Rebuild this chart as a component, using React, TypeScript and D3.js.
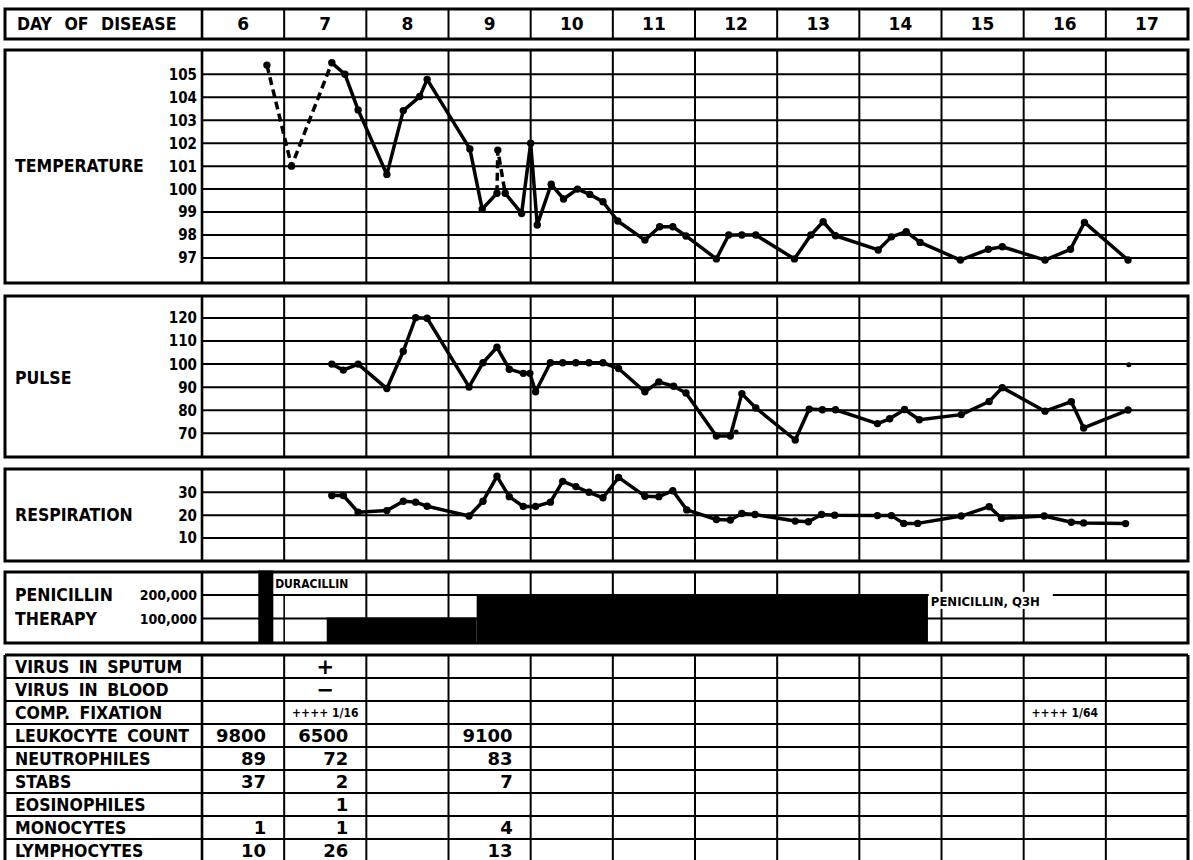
import React from "react";
import * as d3 from "d3";

// ---------------- DATA ----------------
const days = [6, 7, 8, 9, 10, 11, 12, 13, 14, 15, 16, 17];
const tempTicks = [105, 104, 103, 102, 101, 100, 99, 98, 97];
const pulseTicks = [120, 110, 100, 90, 80, 70];
const respTicks = [30, 20, 10];
const penicillinTicks = [200000, 100000];

type Pt = { day: number; value: number; dashed?: boolean };

// dashed = segment leading into this point is dashed
const temperature: Pt[] = [
  { day: 6.79, value: 105.4 },
  { day: 7.09, value: 101.0, dashed: true },
  { day: 7.58, value: 105.5, dashed: true },
  { day: 7.74, value: 105.0 },
  { day: 7.9, value: 103.45 },
  { day: 8.25, value: 100.64 },
  { day: 8.45, value: 103.42 },
  { day: 8.65, value: 104.03 },
  { day: 8.74, value: 104.78 },
  { day: 9.26, value: 101.75 },
  { day: 9.41, value: 99.13 },
  { day: 9.59, value: 99.82 },
  { day: 9.6, value: 101.7, dashed: true },
  { day: 9.69, value: 99.82, dashed: true },
  { day: 9.89, value: 98.94 },
  { day: 10.0, value: 102.0 },
  { day: 10.08, value: 98.44 },
  { day: 10.25, value: 100.21 },
  { day: 10.4, value: 99.57 },
  { day: 10.57, value: 100.0 },
  { day: 10.72, value: 99.77 },
  { day: 10.88, value: 99.45 },
  { day: 11.06, value: 98.61 },
  { day: 11.39, value: 97.78 },
  { day: 11.57, value: 98.36 },
  { day: 11.73, value: 98.36 },
  { day: 11.89, value: 97.96 },
  { day: 12.26, value: 96.96 },
  { day: 12.41, value: 98.0 },
  { day: 12.57, value: 98.0 },
  { day: 12.74, value: 98.0 },
  { day: 13.21, value: 96.96 },
  { day: 13.41, value: 98.0 },
  { day: 13.56, value: 98.58 },
  { day: 13.71, value: 97.97 },
  { day: 14.23, value: 97.35 },
  { day: 14.39, value: 97.92 },
  { day: 14.57, value: 98.15 },
  { day: 14.74, value: 97.68 },
  { day: 15.23, value: 96.91 },
  { day: 15.57, value: 97.38 },
  { day: 15.74, value: 97.49 },
  { day: 16.26, value: 96.91 },
  { day: 16.57, value: 97.38 },
  { day: 16.74, value: 98.55 },
  { day: 17.27, value: 96.91 },
];

const pulse: Pt[] = [
  { day: 7.58, value: 100 },
  { day: 7.72, value: 97.4 },
  { day: 7.9, value: 100 },
  { day: 8.25, value: 89.4 },
  { day: 8.45, value: 105.6 },
  { day: 8.6, value: 120.1 },
  { day: 8.74, value: 119.9 },
  { day: 9.25, value: 90.1 },
  { day: 9.42, value: 100.6 },
  { day: 9.59, value: 107.3 },
  { day: 9.74, value: 97.8 },
  { day: 9.91, value: 96.0 },
  { day: 9.99, value: 96.0 },
  { day: 10.06, value: 88.0 },
  { day: 10.24, value: 100.6 },
  { day: 10.39, value: 100.6 },
  { day: 10.55, value: 100.6 },
  { day: 10.71, value: 100.6 },
  { day: 10.88, value: 100.6 },
  { day: 11.07, value: 98.1 },
  { day: 11.39, value: 88.0 },
  { day: 11.56, value: 92.3 },
  { day: 11.74, value: 90.4 },
  { day: 11.89, value: 87.5 },
  { day: 12.26, value: 68.8 },
  { day: 12.43, value: 68.8 },
  { day: 12.57, value: 87.2 },
  { day: 12.74, value: 81.0 },
  { day: 13.22, value: 67.1 },
  { day: 13.39, value: 80.5 },
  { day: 13.55, value: 80.2 },
  { day: 13.71, value: 80.2 },
  { day: 14.22, value: 74.2 },
  { day: 14.37, value: 76.3 },
  { day: 14.55, value: 80.3 },
  { day: 14.73, value: 75.9 },
  { day: 15.24, value: 78.1 },
  { day: 15.58, value: 83.8 },
  { day: 15.74, value: 89.8 },
  { day: 16.26, value: 79.6 },
  { day: 16.58, value: 83.7 },
  { day: 16.73, value: 72.3 },
  { day: 17.27, value: 80.1 },
];

const pulseIsolated: Pt[] = [
  { day: 12.5, value: 70.6 },
  { day: 17.28, value: 99.7 },
];

const respiration: Pt[] = [
  { day: 7.58, value: 28.6 },
  { day: 7.72, value: 28.6 },
  { day: 7.9, value: 21.3 },
  { day: 8.25, value: 22.0 },
  { day: 8.45, value: 26.1 },
  { day: 8.6, value: 25.7 },
  { day: 8.74, value: 23.9 },
  { day: 9.25, value: 19.6 },
  { day: 9.42, value: 26.1 },
  { day: 9.59, value: 37.0 },
  { day: 9.74, value: 28.1 },
  { day: 9.91, value: 23.8 },
  { day: 10.06, value: 23.8 },
  { day: 10.24, value: 25.7 },
  { day: 10.39, value: 34.8 },
  { day: 10.55, value: 32.5 },
  { day: 10.71, value: 30.0 },
  { day: 10.88, value: 27.6 },
  { day: 11.07, value: 36.5 },
  { day: 11.39, value: 28.3 },
  { day: 11.56, value: 28.1 },
  { day: 11.73, value: 30.7 },
  { day: 11.9, value: 22.3 },
  { day: 12.26, value: 18.1 },
  { day: 12.43, value: 17.9 },
  { day: 12.57, value: 20.7 },
  { day: 12.73, value: 20.3 },
  { day: 13.22, value: 17.4 },
  { day: 13.38, value: 17.1 },
  { day: 13.54, value: 20.3 },
  { day: 13.7, value: 20.0 },
  { day: 14.22, value: 19.8 },
  { day: 14.39, value: 19.8 },
  { day: 14.54, value: 16.4 },
  { day: 14.71, value: 16.4 },
  { day: 15.24, value: 19.6 },
  { day: 15.58, value: 23.7 },
  { day: 15.73, value: 18.6 },
  { day: 16.25, value: 19.6 },
  { day: 16.58, value: 16.9 },
  { day: 16.73, value: 16.6 },
  { day: 17.24, value: 16.3 },
];

const penicillinDoses = [
  { start: 6.685, end: 6.868, units: 300000 },
  { start: 7.518, end: 9.343, units: 100000 },
  { start: 9.343, end: 14.835, units: 200000 },
];
const penicillinNotes = [
  { day: 6.89, units: 250000, text: "DURACILLIN" },
  { day: 14.87, units: 175000, text: "PENICILLIN, Q3H" },
];

const tableRows = [
  "VIRUS IN SPUTUM",
  "VIRUS IN BLOOD",
  "COMP. FIXATION",
  "LEUKOCYTE COUNT",
  "NEUTROPHILES",
  "STABS",
  "EOSINOPHILES",
  "MONOCYTES",
  "LYMPHOCYTES",
];
const virusSputum = [{ day: 7, text: "+" }];
const virusBlood = [{ day: 7, text: "\u2212" }];
const compFixation = [
  { day: 7, text: "++++ 1/16" },
  { day: 16, text: "++++ 1/64" },
];
const cbcDays = [6, 7, 9];
const leukocyteCount = [9800, 6500, 9100];
const neutrophiles = [89, 72, 83];
const stabs = [37, 2, 7];
const eosinophiles: (number | null)[] = [null, 1, null];
const monocytes = [1, 1, 4];
const lymphocytes = [10, 26, 13];

// ---------------- LAYOUT ----------------
const W = 1193;
const H = 860;
const L = 5;
const R = 1188;
const FONT = "'DejaVu Sans Condensed', 'DejaVu Sans', sans-serif";
const FONT_WIDE = "'DejaVu Sans', sans-serif";
const INK = "#000";

const x = d3.scaleLinear().domain([6, 18]).range([202, 1188]);
const boundaries = d3.range(7, 18);

const header = { y0: 9, y1: 39 };
const tempP = { y0: 50, y1: 283 };
const pulseP = { y0: 296, y1: 457 };
const respP = { y0: 469, y1: 561 };
const penP = { y0: 572, y1: 643 };
const tableP = { y0: 655, rowH: 23.0 };

const yT = d3.scaleLinear().domain([97, 105]).range([258, 74.3]);
const yP = d3.scaleLinear().domain([70, 120]).range([433.3, 318]);
const yR = d3.scaleLinear().domain([10, 30]).range([538, 492.3]);
const yPen = d3.scaleLinear().domain([100000, 200000]).range([618.5, 595]);
const yRow = d3
  .scaleLinear()
  .domain([0, tableRows.length])
  .range([tableP.y0, tableP.y0 + tableP.rowH * tableRows.length]);

function runs(pts: Pt[]) {
  const out: { dashed: boolean; pts: Pt[] }[] = [];
  if (pts.length < 2) return out;
  let cur = { dashed: !!pts[1].dashed, pts: [pts[0]] };
  for (let i = 1; i < pts.length; i++) {
    const d = !!pts[i].dashed;
    if (d !== cur.dashed) {
      out.push(cur);
      cur = { dashed: d, pts: [pts[i - 1]] };
    }
    cur.pts.push(pts[i]);
  }
  out.push(cur);
  return out;
}

function Series({ pts, y, isolated = [] }: { pts: Pt[]; y: d3.ScaleLinear<number, number>; isolated?: Pt[] }) {
  const line = d3
    .line<Pt>()
    .x((d) => x(d.day))
    .y((d) => y(d.value));
  return (
    <g>
      {runs(pts).map((r, i) => (
        <path
          key={i}
          d={line(r.pts) || ""}
          fill="none"
          stroke={INK}
          strokeWidth={3.5}
          strokeLinejoin="round"
          strokeDasharray={r.dashed ? "8 4.5" : undefined}
        />
      ))}
      {pts.map((p, i) => (
        <circle key={i} cx={x(p.day)} cy={y(p.value)} r={3.7} fill={INK} />
      ))}
      {isolated.map((p, i) => (
        <circle key={"iso" + i} cx={x(p.day)} cy={y(p.value)} r={2.5} fill={INK} />
      ))}
    </g>
  );
}

function Frame({ y0, y1 }: { y0: number; y1: number }) {
  return (
    <rect x={L} y={y0} width={R - L} height={y1 - y0} fill="none" stroke={INK} strokeWidth={3} />
  );
}

function VLines({ y0, y1, skip = [] as number[] }) {
  return (
    <g>
      <line x1={x(6)} x2={x(6)} y1={y0} y2={y1} stroke={INK} strokeWidth={2.6} />
      {boundaries
        .filter((d) => !skip.includes(d))
        .map((d) => (
          <line key={d} x1={x(d)} x2={x(d)} y1={y0} y2={y1} stroke={INK} strokeWidth={2} />
        ))}
    </g>
  );
}

function HGrid({ ticks, y, x0 = x(6) }: { ticks: number[]; y: (v: number) => number; x0?: number }) {
  return (
    <g>
      {ticks.map((t) => (
        <line key={t} x1={x0} x2={R} y1={y(t)} y2={y(t)} stroke={INK} strokeWidth={2} />
      ))}
    </g>
  );
}

function TickLabels({ ticks, y, fmt = (v: number) => String(v), size = 15 }: any) {
  return (
    <g>
      {ticks.map((t: number) => (
        <text
          key={t}
          x={197}
          y={y(t)}
          dy="0.36em"
          textAnchor="end"
          fontFamily={FONT}
          fontWeight="bold"
          fontSize={size}
          fill={INK}
        >
          {fmt(t)}
        </text>
      ))}
    </g>
  );
}

function Label({ text, y, size = 17.5, x0 = 15, ws = 0 }: { text: string; y: number; size?: number; x0?: number; ws?: number }) {
  return (
    <text
      x={x0}
      y={y}
      dy="0.36em"
      fontFamily={FONT}
      fontWeight="bold"
      fontSize={size}
      wordSpacing={ws}
      fill={INK}
    >
      {text}
    </text>
  );
}

export default function App() {
  const fmtThousands = d3.format(",");
  const cbcRows: { row: number; values: (number | null)[] }[] = [
    { row: 3, values: leukocyteCount },
    { row: 4, values: neutrophiles },
    { row: 5, values: stabs },
    { row: 6, values: eosinophiles },
    { row: 7, values: monocytes },
    { row: 8, values: lymphocytes },
  ];
  const rowMid = (i: number) => (yRow(i) + yRow(i + 1)) / 2;
  const colMid = (d: number) => (x(d) + x(d + 1)) / 2;

  return (
    <svg
      width={W}
      height={H}
      viewBox={`0 0 ${W} ${H}`}
      style={{ position: "absolute", left: 0, top: 0, background: "#fff" }}
    >
      <rect x={0} y={0} width={W} height={H} fill="#fff" />

      {/* HEADER */}
      <g>
        <VLines y0={header.y0} y1={header.y1} />
        <Frame y0={header.y0} y1={header.y1} />
        <Label text="DAY OF DISEASE" y={(header.y0 + header.y1) / 2} x0={17} size={17.5} ws={7} />
        {days.map((d) => (
          <text
            key={d}
            x={colMid(d)}
            y={(header.y0 + header.y1) / 2}
            dy="0.36em"
            textAnchor="middle"
            fontFamily={FONT_WIDE}
            fontWeight="bold"
            fontSize={17}
            fill={INK}
          >
            {d}
          </text>
        ))}
      </g>

      {/* TEMPERATURE */}
      <g>
        <HGrid ticks={tempTicks} y={yT} />
        <VLines y0={tempP.y0} y1={tempP.y1} />
        <Series pts={temperature} y={yT} />
        <Frame y0={tempP.y0} y1={tempP.y1} />
        <TickLabels ticks={tempTicks} y={yT} />
        <Label text="TEMPERATURE" y={yT(101)} />
      </g>

      {/* PULSE */}
      <g>
        <HGrid ticks={pulseTicks} y={yP} />
        <VLines y0={pulseP.y0} y1={pulseP.y1} />
        <Series pts={pulse} y={yP} isolated={pulseIsolated} />
        <Frame y0={pulseP.y0} y1={pulseP.y1} />
        <TickLabels ticks={pulseTicks} y={yP} />
        <Label text="PULSE" y={378} />
      </g>

      {/* RESPIRATION */}
      <g>
        <HGrid ticks={respTicks} y={yR} />
        <VLines y0={respP.y0} y1={respP.y1} />
        <Series pts={respiration} y={yR} />
        <Frame y0={respP.y0} y1={respP.y1} />
        <TickLabels ticks={respTicks} y={yR} />
        <Label text="RESPIRATION" y={yR(20)} />
      </g>

      {/* PENICILLIN */}
      <g>
        <HGrid ticks={penicillinTicks} y={yPen} />
        <VLines y0={penP.y0} y1={penP.y1} skip={[7]} />
        <line x1={x(7)} x2={x(7)} y1={yPen(200000)} y2={penP.y1} stroke={INK} strokeWidth={1.6} />
        {penicillinDoses.map((d, i) => (
          <rect
            key={i}
            x={x(d.start)}
            y={yPen(d.units) - 1}
            width={x(d.end) - x(d.start)}
            height={penP.y1 - yPen(d.units) + 1}
            fill={INK}
          />
        ))}
        {penicillinNotes.map((n, i) => {
          const big = n.text.length > 12;
          return (
            <g key={i}>
              {big && (
                <rect x={x(n.day) - 2} y={yPen(n.units) - 9} width={124} height={17} fill="#fff" />
              )}
              <text
                x={x(n.day)}
                y={yPen(n.units)}
                dy="0.36em"
                fontFamily={FONT}
                fontWeight="bold"
                fontSize={big ? 13 : 12}
                fill={INK}
              >
                {n.text}
              </text>
            </g>
          );
        })}
        <Frame y0={penP.y0} y1={penP.y1} />
        <TickLabels ticks={penicillinTicks} y={yPen} fmt={fmtThousands} size={14} />
        <Label text="PENICILLIN" y={yPen(200000)} />
        <Label text="THERAPY" y={yPen(100000)} />
      </g>

      {/* TABLE */}
      <g>
        {d3.range(1, tableRows.length).map((i) => (
          <line key={i} x1={L} x2={R} y1={yRow(i)} y2={yRow(i)} stroke={INK} strokeWidth={2} />
        ))}
        <VLines y0={tableP.y0} y1={H + 10} />
        <line x1={L} x2={R} y1={tableP.y0} y2={tableP.y0} stroke={INK} strokeWidth={3} />
        <line x1={L} x2={L} y1={tableP.y0} y2={H + 10} stroke={INK} strokeWidth={3} />
        <line x1={R} x2={R} y1={tableP.y0} y2={H + 10} stroke={INK} strokeWidth={3} />
        {tableRows.map((r, i) => (
          <Label key={r} text={r} y={rowMid(i)} ws={4} />
        ))}
        {[
          { row: 0, items: virusSputum },
          { row: 1, items: virusBlood },
        ].map((g) =>
          g.items.map((it, j) => (
            <text
              key={g.row + "-" + j}
              x={colMid(it.day)}
              y={rowMid(g.row)}
              dy="0.36em"
              textAnchor="middle"
              fontFamily={FONT_WIDE}
              fontWeight="bold"
              fontSize={21}
              fill={INK}
            >
              {it.text}
            </text>
          ))
        )}
        {compFixation.map((it, j) => (
          <text
            key={"cf" + j}
            x={colMid(it.day)}
            y={rowMid(2)}
            dy="0.36em"
            textAnchor="middle"
            fontFamily={FONT}
            fontWeight="bold"
            fontSize={12}
            fill={INK}
          >
            {it.text}
          </text>
        ))}
        {cbcRows.map((r) =>
          r.values.map((v, j) =>
            v == null ? null : (
              <text
                key={r.row + "-" + j}
                x={x(cbcDays[j] + 1) - 18}
                y={rowMid(r.row)}
                dy="0.36em"
                textAnchor="end"
                fontFamily={FONT_WIDE}
                fontWeight="bold"
                fontSize={18}
                fill={INK}
              >
                {v}
              </text>
            )
          )
        )}
      </g>
    </svg>
  );
}
